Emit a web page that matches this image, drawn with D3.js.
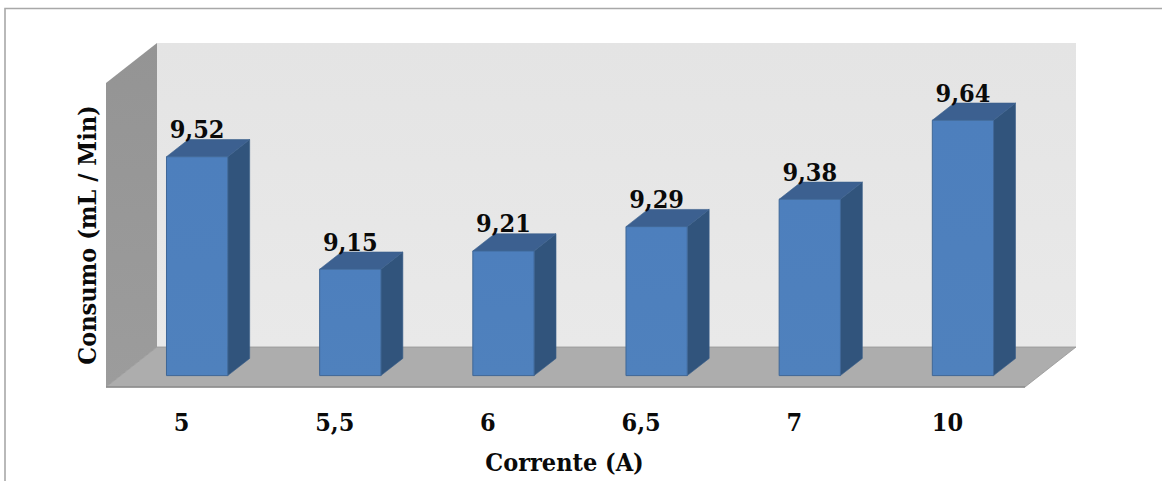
<!DOCTYPE html>
<html>
<head>
<meta charset="utf-8">
<script src="https://cdnjs.cloudflare.com/ajax/libs/d3/7.8.5/d3.min.js"></script>
<style>
html, body { margin: 0; padding: 0; background: #fff; }
svg { display: block; }
text { font-family: "DejaVu Serif Condensed", "DejaVu Serif", serif; font-stretch: condensed; font-weight: bold; fill: #0a0a0a; }
</style>
</head>
<body>
<svg id="chart" width="1162" height="481"></svg>
<script>
// Fuel consumption per applied current
const categories = ["5", "5,5", "6", "6,5", "7", "10"];
const values = [9.52, 9.15, 9.21, 9.29, 9.38, 9.64];
const labels = ["9,52", "9,15", "9,21", "9,29", "9,38", "9,64"];
const yDomain = [8.8, 9.8];
const yTitle = "Consumo (mL / Min)";
const xTitle = "Corrente (A)";

const width = 1162, height = 481;
const svg = d3.select("#chart").attr("viewBox", `0 0 ${width} ${height}`);

// Front plane of the 3D box and its shift toward the back wall
const x = d3.scaleBand().domain(categories).range([106, 1025]).paddingInner(0).paddingOuter(0);
const y = d3.scaleLinear().domain(yDomain).range([387, 83]);
const depth = { dx: 51, dy: -40 };
const barStart = 0.285;   // where a bar begins along the depth
const barDepth = 0.43;    // how much of the depth a bar takes
const barWidth = 0.4;     // share of the band

const defs = svg.append("defs");
function vGrad(id, stops, x2 = 0, y2 = 1) {
  const g = defs.append("linearGradient").attr("id", id)
    .attr("x1", 0).attr("y1", 0).attr("x2", x2).attr("y2", y2);
  stops.forEach(([o, c]) => g.append("stop").attr("offset", o).attr("stop-color", c));
}
vGrad("wallBack", [[0, "#e4e4e4"], [1, "#e9e9e9"]]);
vGrad("wallSide", [[0, "#949494"], [1, "#9c9c9c"]]);
vGrad("barFront", [[0, "#4d7fbd"], [1, "#4f81bd"]]);

const poly = pts => "M" + pts.map(p => p.join(",")).join("L") + "Z";

// Page frame running off the top and right edges
svg.append("path")
  .attr("d", `M5,${height}V8.5H${width}`)
  .attr("fill", "none").attr("stroke", "#a8a8a8").attr("stroke-width", 1.6);

// Back wall, side wall and floor
const [x0, x1] = x.range();
const yBottom = y(yDomain[0]), yTop = y(yDomain[1]);
const { dx, dy } = depth;
svg.append("path").attr("fill", "url(#wallBack)")
  .attr("d", poly([[x0 + dx, yTop + dy], [x1 + dx, yTop + dy], [x1 + dx, yBottom + dy], [x0 + dx, yBottom + dy]]));
svg.append("path").attr("fill", "url(#wallSide)")
  .attr("d", poly([[x0, yTop], [x0 + dx, yTop + dy], [x0 + dx, yBottom + dy], [x0, yBottom]]));
svg.append("path").attr("fill", "#adadad").attr("stroke", "#969696").attr("stroke-width", 0.8)
  .attr("d", poly([[x0, yBottom], [x0 + dx, yBottom + dy], [x1 + dx, yBottom + dy], [x1, yBottom]]));
svg.append("line").attr("x1", x0).attr("x2", x1).attr("y1", yBottom).attr("y2", yBottom)
  .attr("stroke", "#8c8c8c").attr("stroke-width", 1.6);

// Bars: front face, side face and top face
const bars = svg.append("g").selectAll("g").data(categories).join("g");
const sx = barStart * dx, sy = barStart * dy;
const bdx = barDepth * dx, bdy = barDepth * dy;
const bw = x.bandwidth() * barWidth;
const left = c => x(c) + (x.bandwidth() - bw) / 2 + sx;
const topY = (c, i) => y(values[i]) + sy;
const baseY = () => yBottom + sy;

bars.append("path").attr("fill", "#31547c").attr("stroke", "#3a5f8c").attr("stroke-width", 0.6)
  .attr("d", (c, i) => poly([
    [left(c) + bw, topY(c, i)], [left(c) + bw + bdx, topY(c, i) + bdy],
    [left(c) + bw + bdx, baseY() + bdy], [left(c) + bw, baseY()]]));
bars.append("path").attr("fill", "#3c6090").attr("stroke", "#3a5f8c").attr("stroke-width", 0.6)
  .attr("d", (c, i) => poly([
    [left(c), topY(c, i)], [left(c) + bdx, topY(c, i) + bdy],
    [left(c) + bw + bdx, topY(c, i) + bdy], [left(c) + bw, topY(c, i)]]));
bars.append("path").attr("fill", "url(#barFront)").attr("stroke", "#3f6797").attr("stroke-width", 1)
  .attr("d", (c, i) => poly([
    [left(c), topY(c, i)], [left(c) + bw, topY(c, i)],
    [left(c) + bw, baseY()], [left(c), baseY()]]));

// Value labels sitting on the top of each bar
bars.append("text")
  .attr("x", c => left(c) + bw / 2)
  .attr("y", (c, i) => topY(c, i) + bdy - 1.5)
  .attr("text-anchor", "middle")
  .attr("font-size", 25)
  .text((c, i) => labels[i]);

// Category labels
svg.append("g").selectAll("text").data(categories).join("text")
  .attr("x", c => x(c) + x.bandwidth() / 2 - 1)
  .attr("y", 430.5)
  .attr("text-anchor", "middle")
  .attr("font-size", 25)
  .text(c => c);

// Axis titles
svg.append("text").attr("x", 564.5).attr("y", 471)
  .attr("text-anchor", "middle").attr("font-size", 25).text(xTitle);
svg.append("text")
  .attr("transform", "translate(96,235) rotate(-90)")
  .attr("text-anchor", "middle").attr("font-size", 25).text(yTitle);
</script>
</body>
</html>
